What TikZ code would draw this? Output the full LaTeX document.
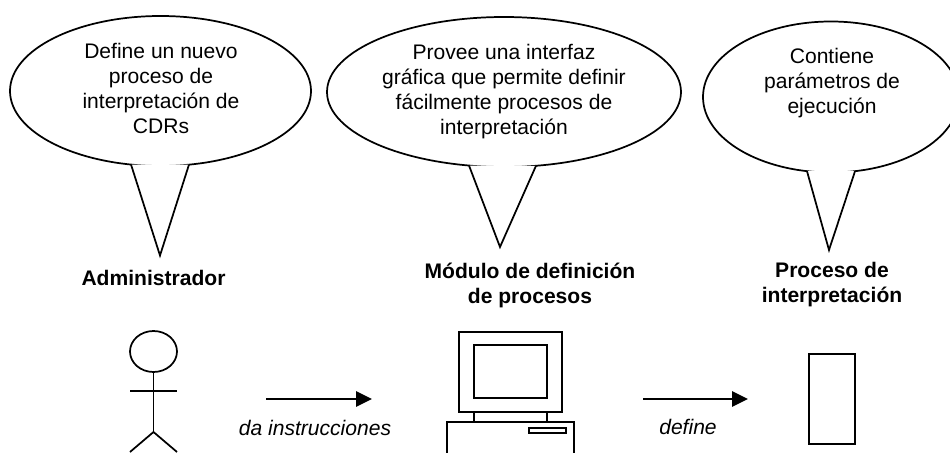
\documentclass[tikz,border=0pt]{standalone}
\usepackage{fontspec}
\setmainfont{Liberation Sans}
\usetikzlibrary{arrows.meta,shapes.geometric}
\tikzset{
  px/.style={x=0.75pt,y=-0.75pt},
  ln/.style={draw=black,line width=1.3pt,line join=miter},
  bubble/.style={ellipse,ln,inner sep=0pt,outer sep=0pt},
  tailshape/.style={ln,fill=white},
  bubbletext/.style={align=center,font=\fontsize{15.8pt}{18.75pt}\selectfont,inner sep=0pt},
  titletext/.style={align=center,font=\fontsize{15.8pt}{18.75pt}\selectfont\bfseries,inner sep=0pt},
  edgetext/.style={font=\fontsize{15.8pt}{18.75pt}\selectfont\itshape,inner sep=0pt},
  flow/.style={line width=1.7pt,-{Triangle[length=12pt,width=11.5pt]}},
  boxpart/.style={rectangle,ln,inner sep=0pt,outer sep=0pt}
}
\begin{document}
\begin{tikzpicture}[px]
\useasboundingbox (0,0) rectangle (950,453);
% bubbles
\node[bubble,minimum width=225.75pt,minimum height=112.5pt] (b1) at (160.5,91) {};
\coordinate (b1l) at (131,164.5); \coordinate (b1r) at (189,164.6); \coordinate (b1t) at (160,255.5);
\draw[tailshape] (b1l) -- (b1t) -- (b1r);
\node[bubbletext] (t1) at (161,88) {Define un nuevo\\proceso de\\interpretación de\\CDRs};

\node[bubble,minimum width=265.5pt,minimum height=112.5pt] (b2) at (504,92) {};
\coordinate (b2l) at (469,165.5); \coordinate (b2r) at (536,165.8); \coordinate (b2t) at (500,247);
\draw[tailshape] (b2l) -- (b2t) -- (b2r);
\node[bubbletext] (t2) at (504,92) {Provee una interfaz\\gráfica que permite definir\\fácilmente procesos de\\interpretación};

\node[bubble,minimum width=192pt,minimum height=113.25pt] (b3) at (831,97) {};
\coordinate (b3l) at (807,171.2); \coordinate (b3r) at (855,171.2); \coordinate (b3t) at (829,250);
\draw[tailshape] (b3l) -- (b3t) -- (b3r);
\node[bubbletext] (t3) at (832,83) {Contiene\\parámetros de\\ejecución};
% titles
\node[titletext] (a1) at (153.5,278) {Administrador};
\node[titletext] (a2) at (530,285.5) {Módulo de definición\\de procesos};
\node[titletext] (a3) at (832,284.5) {Proceso de\\interpretación};
% actor
\node[ellipse,ln,inner sep=0pt,outer sep=0pt,minimum width=35.25pt,minimum height=30.75pt] (head) at (153.5,351.5) {};
\coordinate (hip) at (153.5,432);
\coordinate (armL) at (130,391); \coordinate (armR) at (177,391);
\coordinate (legL) at (130,452); \coordinate (legR) at (177,452);
\draw[ln] (head.south) -- (hip);
\draw[ln] (armL) -- (armR);
\draw[ln] (legL) -- (hip) -- (legR);
% arrows
\coordinate (f1a) at (266,399); \coordinate (f1b) at (372,399);
\draw[flow] (f1a) -- (f1b);
\node[edgetext] (l1) at (315,428) {da instrucciones};
\coordinate (f2a) at (643,399); \coordinate (f2b) at (748,399);
\draw[flow] (f2a) -- (f2b);
\node[edgetext] (l2) at (688,427) {define};
% computer
\node[boxpart,minimum width=77.25pt,minimum height=60pt] (mon) at (510.5,372) {};
\node[boxpart,minimum width=54.75pt,minimum height=39.75pt] (scr) at (510.5,371.5) {};
\coordinate (nl) at (474,412); \coordinate (nr) at (547,412);
\coordinate (bl) at (474,422); \coordinate (br) at (547,422);
\draw[ln] (nl) -- (bl); \draw[ln] (nr) -- (br);
\coordinate (c1) at (447,453); \coordinate (c2) at (447,422); \coordinate (c3) at (574,422); \coordinate (c4) at (574,453);
\draw[ln] (c1) -- (c2) -- (c3) -- (c4);
\node[boxpart,minimum width=27.75pt,minimum height=3.75pt] (slot) at (547.5,430.5) {};
% process
\node[boxpart,minimum width=34.5pt,minimum height=67.5pt] (proc) at (832,399) {};
\end{tikzpicture}
\end{document}
